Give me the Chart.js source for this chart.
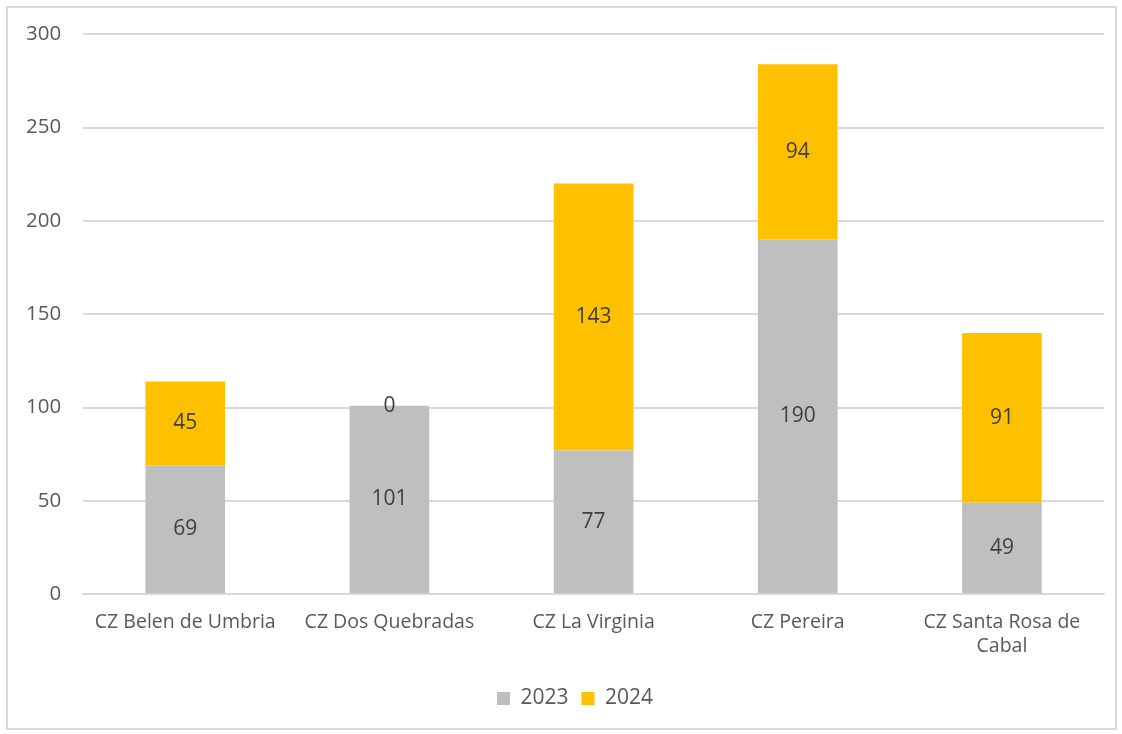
<!DOCTYPE html>
<html>
<head>
<meta charset="utf-8">
<script src="https://cdn.jsdelivr.net/npm/chart.js@4.4.1/dist/chart.umd.min.js"></script>
<style>
  html, body { margin: 0; padding: 0; background: #fff; }
  #frame {
    position: absolute; left: 6px; top: 6px; width: 1111px; height: 724px;
    border: 2px solid #D9D9D9; box-sizing: border-box;
  }
  #wrap { position: absolute; left: 0; top: 0; width: 1122px; height: 734px; }
</style>
</head>
<body>
<div id="frame"></div>
<div id="wrap"><canvas id="grafico"></canvas></div>
<script>
// Datos
const categorias = [
  "CZ Belen de Umbria",
  "CZ Dos Quebradas",
  "CZ La Virginia",
  "CZ Pereira",
  ["CZ Santa Rosa de", "Cabal"],
];
const valores2023 = [69, 101, 77, 190, 49];
const valores2024 = [45, 0, 143, 94, 91];
const ticksY = [0, 50, 100, 150, 200, 250, 300];

const fuente = "'Open Sans', 'Noto Sans', sans-serif";

// etiquetas en el centro de cada barra
const etiquetas = {
  id: "etiquetas",
  afterDatasetsDraw(chart) {
    const ctx = chart.ctx;
    ctx.save();
    ctx.font = "21px " + fuente;
    ctx.fillStyle = "#404040";
    ctx.textAlign = "center";
    ctx.textBaseline = "middle";
    chart.data.datasets.forEach((ds, i) => {
      const meta = chart.getDatasetMeta(i);
      meta.data.forEach((bar, j) => {
        const y = (bar.y + bar.base) / 2;
        ctx.fillText(String(ds.data[j]), bar.x, y);
      });
    });
    ctx.restore();
  },
};

// la leyenda va un poco más a la derecha (centrada en el marco)
const moverLeyenda = {
  id: "moverLeyenda",
  afterLayout(chart) {
    const l = chart.legend;
    if (l) { l.left += 21; l.right += 21; }
  },
};

const grafico = new Chart(document.getElementById("grafico"), {
  type: "bar",
  data: {
    labels: categorias,
    datasets: [
      {
        label: "2023",
        data: valores2023,
        backgroundColor: "#BFBFBF",
        categoryPercentage: 1,
        barPercentage: 0.39,
      },
      {
        label: "2024",
        data: valores2024,
        backgroundColor: "#FFC000",
        categoryPercentage: 1,
        barPercentage: 0.39,
      },
    ],
  },
  options: {
    responsive: true,
    maintainAspectRatio: false,
    animation: false,
    layout: {
      padding: { left: 4, right: 18, top: 28, bottom: 15 },
    },
    scales: {
      x: {
        stacked: true,
        grid: { display: false, drawTicks: false },
        border: { color: "#D9D9D9", width: 2 },
        ticks: {
          color: "#595959",
          font: { family: fuente, size: 19.5 },
          padding: 17,
          maxRotation: 0,
          autoSkip: false,
        },
      },
      y: {
        stacked: true,
        min: 0,
        max: 300,
        afterBuildTicks(axis) {
          axis.ticks = ticksY.map((v) => ({ value: v }));
        },
        grid: { color: "#D9D9D9", lineWidth: 2, drawTicks: false },
        border: { display: false },
        ticks: {
          color: "#595959",
          font: { family: fuente, size: 20.5 },
          padding: 22,
        },
      },
    },
    plugins: {
      legend: {
        position: "bottom",
        labels: {
          color: "#595959",
          font: { family: fuente, size: 21 },
          boxWidth: 13,
          boxHeight: 13,
          padding: 13,
        },
      },
      tooltip: { enabled: false },
    },
  },
  plugins: [etiquetas, moverLeyenda],
});
</script>
</body>
</html>
